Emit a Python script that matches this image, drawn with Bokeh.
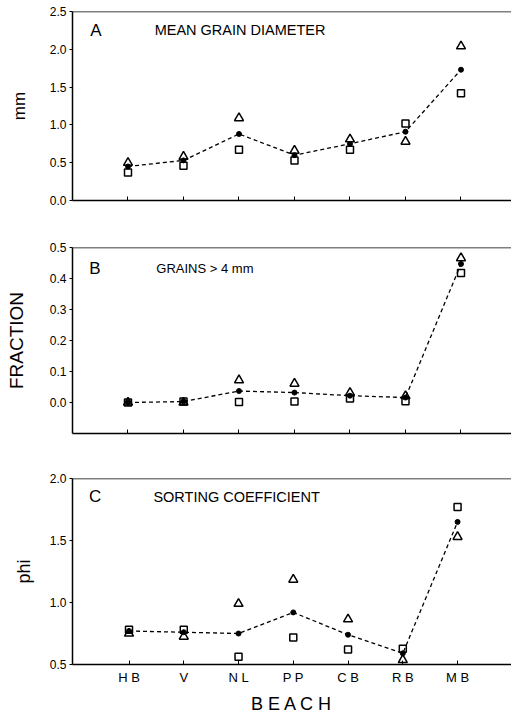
from bokeh.plotting import figure
from bokeh.models import Range1d, FixedTicker, NumeralTickFormatter, Span, Label
from bokeh.layouts import column
from bokeh.embed import file_html
from bokeh.resources import INLINE

beaches = ["HB", "V", "NL", "PP", "CB", "RB", "MB"]
beach_ticks = ["H B", "V", "N L", "P P", "C B", "R B", "M B"]

# Panel A: mean grain diameter (mm)
diam_tri = [0.50, 0.58, 1.09, 0.66, 0.81, 0.78, 2.04]
diam_sq = [0.37, 0.46, 0.67, 0.53, 0.67, 1.02, 1.42]
diam_mean = [0.45, 0.53, 0.88, 0.60, 0.75, 0.91, 1.73]

# Panel B: fraction of grains > 4 mm
frac_tri = [0.0, 0.0, 0.072, 0.061, 0.031, 0.021, 0.466]
frac_sq = [0.0, 0.003, 0.002, 0.003, 0.013, 0.004, 0.418]
frac_mean = [0.0, 0.003, 0.037, 0.032, 0.022, 0.016, 0.447]

# Panel C: sorting coefficient (phi)
sort_tri = [0.75, 0.725, 0.99, 1.185, 0.865, 0.537, 1.53]
sort_sq = [0.78, 0.78, 0.563, 0.717, 0.62, 0.627, 1.77]
sort_mean = [0.77, 0.76, 0.75, 0.92, 0.74, 0.59, 1.65]

FONT = "Liberation Sans"
xs = list(range(1, len(beaches) + 1))


def panel(height, bt, bb, bl, x_start, x_end, yr, yticks, ylabel, ylab_size, ylab_standoff,
          tri, sq, mean, letter, title, title_size, lx, ly, tx, show_x):
    p = figure(width=511, height=height, output_backend="svg", toolbar_location=None,
               x_range=Range1d(x_start, x_end), y_range=Range1d(*yr),
               min_border_top=bt, min_border_bottom=bb, min_border_left=bl, min_border_right=0)
    p.outline_line_color = None
    p.grid.visible = False
    p.background_fill_color = "white"
    p.border_fill_color = "white"

    ya = p.yaxis[0]
    ya.ticker = FixedTicker(ticks=yticks)
    ya.formatter = NumeralTickFormatter(format="0.0")
    ya.major_tick_in = 0
    ya.major_tick_out = 3
    ya.major_tick_line_color = "black"
    ya.minor_tick_line_color = None
    ya.major_label_standoff = 3
    ya.major_label_text_font = FONT
    ya.major_label_text_font_size = "12px"
    ya.major_label_text_color = "black"
    ya.axis_line_width = 1.5
    ya.axis_line_color = "black"
    ya.axis_label = ylabel
    ya.axis_label_text_font = FONT
    ya.axis_label_text_font_style = "normal"
    ya.axis_label_text_font_size = ylab_size
    ya.axis_label_text_color = "black"
    ya.axis_label_standoff = ylab_standoff

    xa = p.xaxis[0]
    xa.ticker = FixedTicker(ticks=xs)
    xa.major_label_overrides = {x: t for x, t in zip(xs, beach_ticks)}
    xa.major_tick_in = 4
    xa.major_tick_out = 0
    xa.major_tick_line_color = "black"
    xa.minor_tick_line_color = None
    xa.axis_line_width = 1.5
    xa.axis_line_color = "black"
    xa.major_label_text_font = FONT
    if show_x:
        xa.major_label_text_color = "black"
        xa.major_label_text_font_size = "13px"
        xa.major_label_standoff = 5
        xa.axis_label = "B E A C H"
        xa.axis_label_text_font = FONT
        xa.axis_label_text_font_style = "normal"
        xa.axis_label_text_font_size = "18px"
        xa.axis_label_text_color = "black"
        xa.axis_label_standoff = 6
    else:
        xa.major_label_text_color = None
        xa.major_label_text_font_size = "1px"
        xa.major_label_standoff = 0

    p.add_layout(Span(location=yr[1], dimension="width", line_color="black", line_width=1.5))

    p.line(xs, mean, line_dash="4 3", line_color="black", line_width=1.3)
    p.scatter(xs, sq, marker="square", size=7, fill_color=None, line_color="black", line_width=1.5)
    p.scatter(xs, tri, marker="triangle", size=9, fill_color=None, line_color="black", line_width=1.5)
    p.scatter(xs, mean, marker="circle", size=5, fill_color="black", line_color="black")

    p.add_layout(Label(x=lx, y=ly, text=letter, text_font=FONT, text_font_size="17px",
                       text_baseline="middle", text_color="black"))
    p.add_layout(Label(x=tx, y=ly, text=title, text_font=FONT, text_font_size=title_size,
                       text_baseline="middle", text_color="black"))
    return p


pa = panel(220, 11, 20, 72, 0.0, 7.91, (0, 2.5), [0.0, 0.5, 1.0, 1.5, 2.0, 2.5], "mm", "17px", 18,
           diam_tri, diam_sq, diam_mean, "A", "MEAN  GRAIN  DIAMETER", "14.5px", 0.32, 2.25, 1.48, False)
pb = panel(225, 27, 12, 72, 0.0, 7.91, (-0.1, 0.5), [0.0, 0.1, 0.2, 0.3, 0.4, 0.5], "FRACTION", "19px", 20,
           frac_tri, frac_sq, frac_mean, "B", "GRAINS > 4 mm", "13px", 0.3, 0.433, 1.51, False)
pc = panel(271, 33, 49, 66, -0.032, 7.985, (0.5, 2.0), [0.5, 1.0, 1.5, 2.0], "phi", "18px", 13,
           sort_tri, sort_sq, sort_mean, "C", "SORTING  COEFFICIENT", "14.5px", 0.27, 1.854, 1.445, True)

layout = column(pa, pb, pc, spacing=0)
open("out.html", "w").write(file_html(layout, INLINE))
